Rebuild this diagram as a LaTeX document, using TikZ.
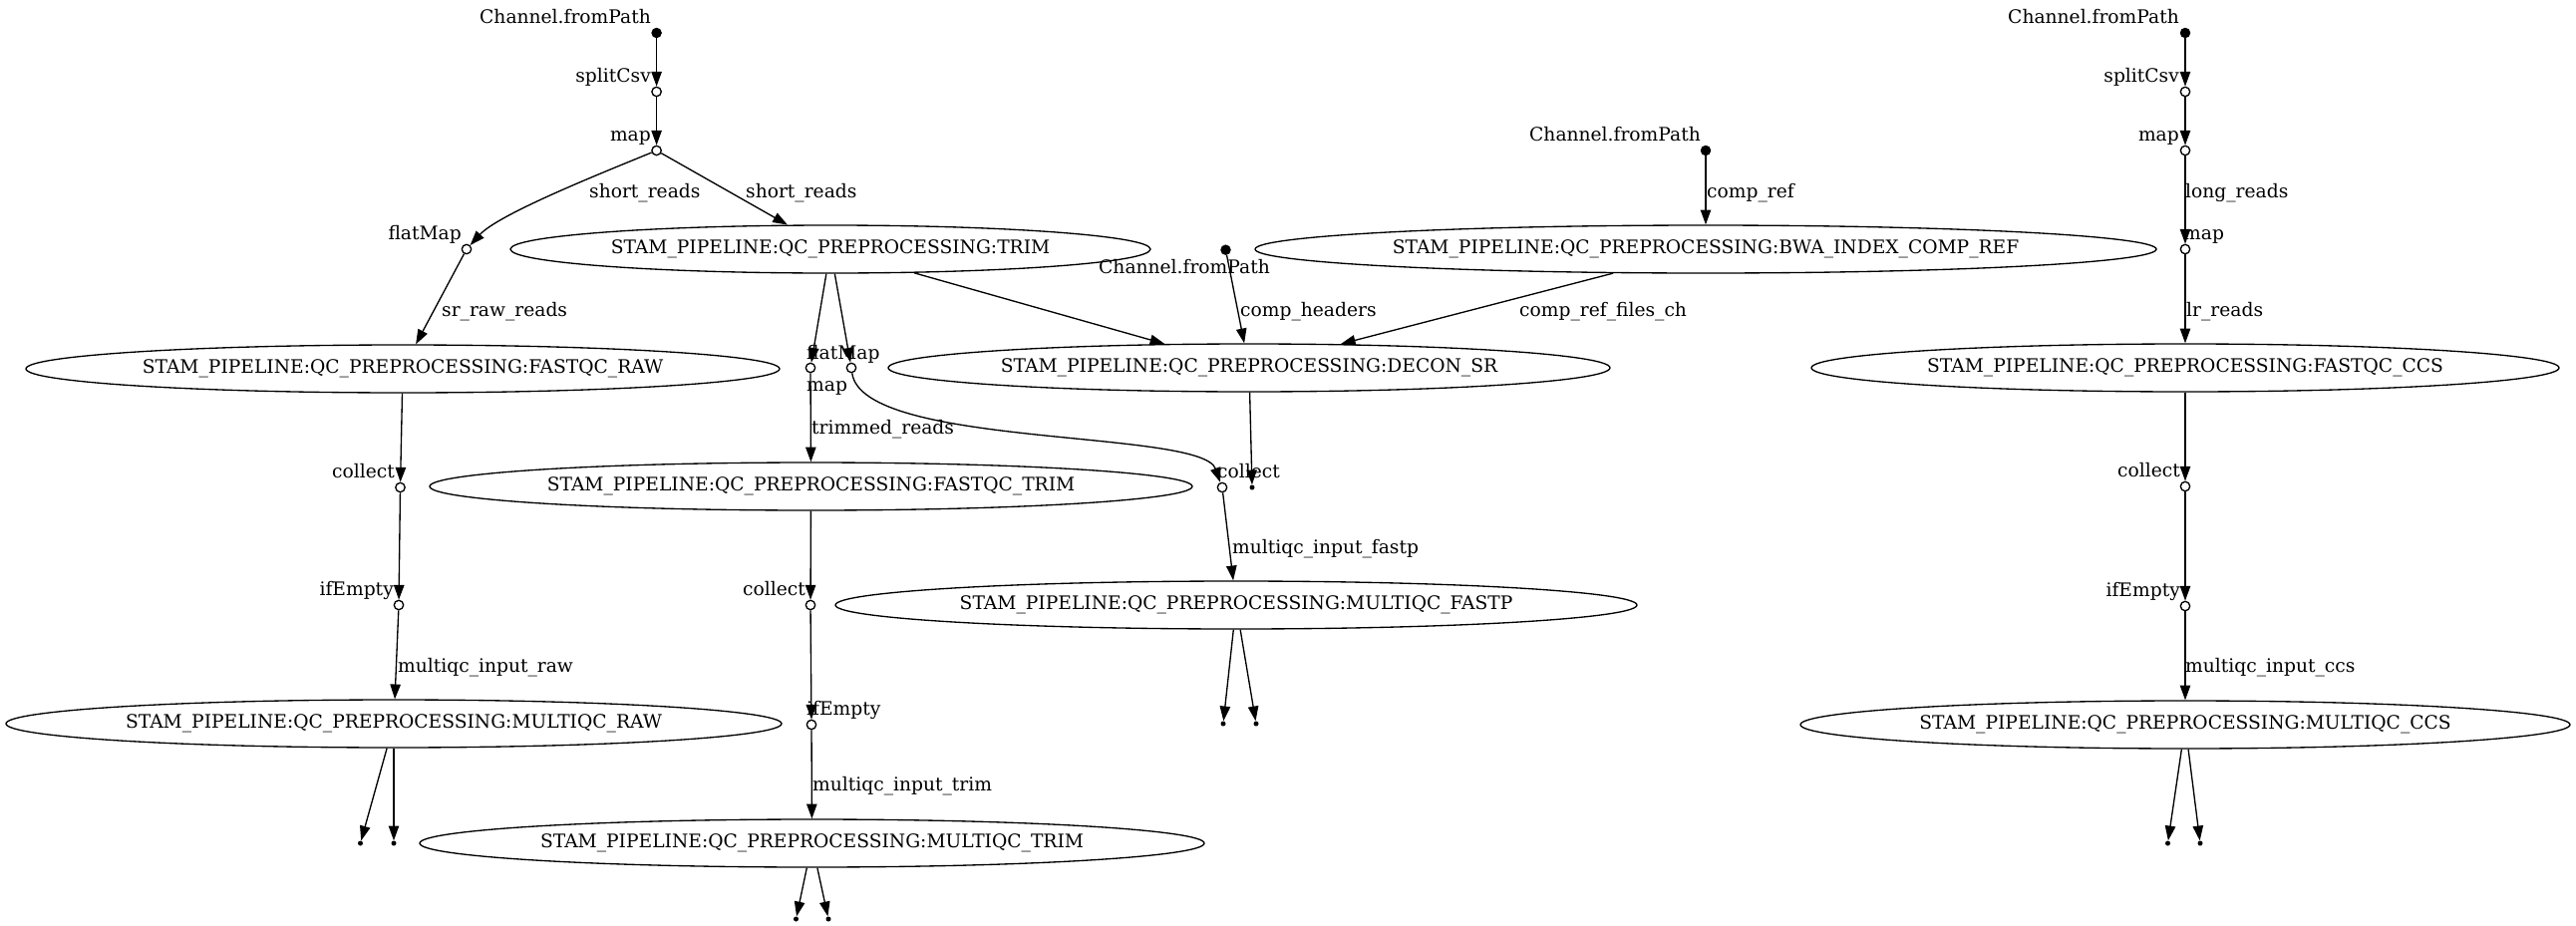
\documentclass[tikz,border=0pt]{standalone}
\usepackage{fontspec}
\setmainfont{DejaVu Serif}
\usetikzlibrary{arrows.meta,shapes.geometric}
\begin{document}
\begin{tikzpicture}[x=1pt,y=-1pt,font=\fontsize{18.67}{22}\selectfont,
  proc/.style={ellipse,draw,line width=1.33pt,inner sep=0pt,minimum height=48pt},
  op/.style={circle,draw,fill=white,line width=1.33pt,minimum size=9.4pt,inner sep=0pt},
  src/.style={circle,fill=black,minimum size=10.5pt,inner sep=0pt},
  sink/.style={circle,fill=black,minimum size=5pt,inner sep=0pt},
  lbl/.style={inner sep=0pt},
  flow/.style={line width=1.33pt,-{Triangle[length=14.8pt,width=10.4pt]}}]
\useasboundingbox (0,0) rectangle (2584,929);
\fill[white] (0,0) rectangle (2584,929);

% left column
\node[src] (cfpA) at (658.6,33) {};
\node[op] (splitA) at (658.6,92) {};
\node[op] (mapA) at (658.6,151) {};
\node[op] (flatA) at (468,250) {};
\node[proc,minimum width=642pt] (trim) at (833,250) {STAM\_PIPELINE:QC\_PREPROCESSING:TRIM};
\node[proc,minimum width=756pt] (fqraw) at (404,370) {STAM\_PIPELINE:QC\_PREPROCESSING:FASTQC\_RAW};
\node[op] (collA) at (401.5,489) {};
\node[op] (ifeA) at (400,607) {};
\node[proc,minimum width=778pt] (mqraw) at (395,726) {STAM\_PIPELINE:QC\_PREPROCESSING:MULTIQC\_RAW};
\node[sink] (oRawA) at (361.5,846) {};
\node[sink] (oRawB) at (395,846) {};

% middle
\node[op] (mapB) at (813,369) {};
\node[op] (flatB) at (854,369) {};
\node[proc,minimum width=765pt] (fqtrim) at (813.5,488) {STAM\_PIPELINE:QC\_PREPROCESSING:FASTQC\_TRIM};
\node[op] (collC) at (813,607) {};
\node[op] (ifeC) at (814,727) {};
\node[proc,minimum width=787pt] (mqtrim) at (814.5,846) {STAM\_PIPELINE:QC\_PREPROCESSING:MULTIQC\_TRIM};
\node[sink] (oTrimA) at (798.5,922) {};
\node[sink] (oTrimB) at (831,922) {};

\node[src] (cfpC) at (1229.5,250.7) {};
\node[src] (cfpB) at (1711,151) {};
\node[proc,minimum width=904pt] (bwa) at (1711,250) {STAM\_PIPELINE:QC\_PREPROCESSING:BWA\_INDEX\_COMP\_REF};
\node[proc,minimum width=724pt] (decon) at (1253,369) {STAM\_PIPELINE:QC\_PREPROCESSING:DECON\_SR};
\node[sink] (oDecon) at (1256,489) {};
\node[op] (collB) at (1226,489) {};
\node[proc,minimum width=804pt] (mqfastp) at (1240,607) {STAM\_PIPELINE:QC\_PREPROCESSING:MULTIQC\_FASTP};
\node[sink] (oFastpA) at (1227,726) {};
\node[sink] (oFastpB) at (1260,726) {};

% right column
\node[src] (cfpD) at (2192,33) {};
\node[op] (splitD) at (2192,92) {};
\node[op] (mapD) at (2192,151) {};
\node[op] (mapD2) at (2192,250) {};
\node[proc,minimum width=750pt] (fqccs) at (2192,369) {STAM\_PIPELINE:QC\_PREPROCESSING:FASTQC\_CCS};
\node[op] (collD) at (2192,488) {};
\node[op] (ifeD) at (2192,608) {};
\node[proc,minimum width=772pt] (mqccs) at (2192,727) {STAM\_PIPELINE:QC\_PREPROCESSING:MULTIQC\_CCS};
\node[sink] (oCcsA) at (2174.5,846) {};
\node[sink] (oCcsB) at (2207,846) {};

% labels
\node[lbl,anchor=base east] (lCfpA) at (653,23) {Channel.fromPath};
\node[lbl,anchor=base east] (lSplitA) at (653,82) {splitCsv};
\node[lbl,anchor=base east] (lMapA) at (653,141) {map};
\node[lbl,anchor=base east] (lFlatA) at (463,240) {flatMap};
\node[lbl,anchor=base west] (lShortL) at (591,198) {short\_reads};
\node[lbl,anchor=base west] (lShortR) at (748,198) {short\_reads};
\node[lbl,anchor=base west] (lSrRaw) at (443,317) {sr\_raw\_reads};
\node[lbl,anchor=base east] (lCollA) at (396,479) {collect};
\node[lbl,anchor=base east] (lIfeA) at (395,597) {ifEmpty};
\node[lbl,anchor=base west] (lMqRaw) at (399,674) {multiqc\_input\_raw};
\node[lbl,anchor=base west] (lFlatB) at (809,360) {flatMap};
\node[lbl,anchor=base west] (lMapB) at (809,392) {map};
\node[lbl,anchor=base west] (lTrimmed) at (814,435) {trimmed\_reads};
\node[lbl,anchor=base east] (lCollC) at (808,597) {collect};
\node[lbl,anchor=base west] (lIfeC) at (809,717) {ifEmpty};
\node[lbl,anchor=base west] (lMqTrim) at (815,793) {multiqc\_input\_trim};
\node[lbl,anchor=base west] (lCfpC) at (1102,274) {Channel.fromPath};
\node[lbl,anchor=base west] (lCompHead) at (1244,317) {comp\_headers};
\node[lbl,anchor=base east] (lCfpB) at (1706,141) {Channel.fromPath};
\node[lbl,anchor=base west] (lCompRef) at (1712,198) {comp\_ref};
\node[lbl,anchor=base west] (lCompRefFiles) at (1524,317) {comp\_ref\_files\_ch};
\node[lbl,anchor=base west] (lCollB) at (1221,479) {collect};
\node[lbl,anchor=base west] (lMqFastp) at (1236,555) {multiqc\_input\_fastp};
\node[lbl,anchor=base east] (lCfpD) at (2186,23) {Channel.fromPath};
\node[lbl,anchor=base east] (lSplitD) at (2186,82) {splitCsv};
\node[lbl,anchor=base east] (lMapD) at (2186,141) {map};
\node[lbl,anchor=base west] (lLong) at (2192,198) {long\_reads};
\node[lbl,anchor=base west] (lMapD2) at (2190,240) {map};
\node[lbl,anchor=base west] (lLr) at (2193,317) {lr\_reads};
\node[lbl,anchor=base east] (lCollD) at (2187,478) {collect};
\node[lbl,anchor=base east] (lIfeD) at (2187,598) {ifEmpty};
\node[lbl,anchor=base west] (lMqCcs) at (2192,674) {multiqc\_input\_ccs};

% edges
\draw[flow] (cfpA) -- (splitA);
\draw[flow] (splitA) -- (mapA);
\draw[flow] (mapA) .. controls (600,175) and (500,215) .. (flatA);
\draw[flow] (mapA) -- (trim);
\draw[flow] (flatA) -- (fqraw);
\draw[flow] (fqraw) -- (collA);
\draw[flow] (collA) -- (ifeA);
\draw[flow] (ifeA) -- (mqraw);
\draw[flow] (mqraw) -- (oRawA);
\draw[flow] (mqraw) -- (oRawB);
\draw[flow] (trim) -- (mapB);
\draw[flow] (trim) -- (flatB);
\draw[flow] (trim) -- (decon);
\draw[flow] (cfpC) -- (decon);
\draw[flow] (cfpB) -- (bwa);
\draw[flow] (bwa) -- (decon);
\draw[flow] (decon) -- (oDecon);
\draw[flow] (mapB) -- (fqtrim);
\draw[flow] (flatB) .. controls (865,450) and (1205,430) .. (collB);
\draw[flow] (fqtrim) -- (collC);
\draw[flow] (collC) -- (ifeC);
\draw[flow] (ifeC) -- (mqtrim);
\draw[flow] (mqtrim) -- (oTrimA);
\draw[flow] (mqtrim) -- (oTrimB);
\draw[flow] (collB) -- (mqfastp);
\draw[flow] (mqfastp) -- (oFastpA);
\draw[flow] (mqfastp) -- (oFastpB);
\draw[flow] (cfpD) -- (splitD);
\draw[flow] (splitD) -- (mapD);
\draw[flow] (mapD) -- (mapD2);
\draw[flow] (mapD2) -- (fqccs);
\draw[flow] (fqccs) -- (collD);
\draw[flow] (collD) -- (ifeD);
\draw[flow] (ifeD) -- (mqccs);
\draw[flow] (mqccs) -- (oCcsA);
\draw[flow] (mqccs) -- (oCcsB);
\end{tikzpicture}
\end{document}
